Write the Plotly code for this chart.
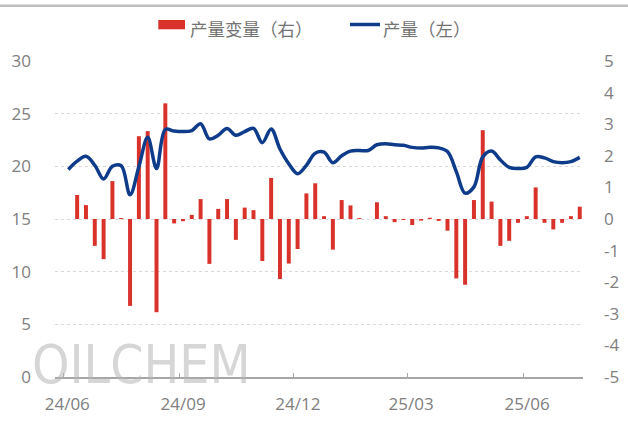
import pandas as pd
import plotly.graph_objects as go

# ---- data ----
start_date = "2024-06-05"
n_weeks = 59
dates = pd.date_range(start_date, periods=n_weeks, freq="7D")

output_left = [
    19.7, 20.5, 20.95, 20.1, 18.8, 20.0, 20.05, 17.3, 19.95, 22.75,
    19.8, 23.5, 23.35, 23.3, 23.4, 24.05, 22.6, 22.95, 23.6, 22.95,
    23.3, 23.6, 22.25, 23.55, 21.65, 20.25, 19.3, 20.1, 21.25, 21.35,
    20.35, 21.0, 21.45, 21.5, 21.5, 22.05, 22.15, 22.05, 22.0, 21.8,
    21.75, 21.8, 21.75, 21.4, 19.5, 17.45, 18.05, 20.9, 21.45, 20.6,
    19.9, 19.8, 19.9, 20.9, 20.8, 20.45, 20.35, 20.45, 20.85,
]

change_right = [
    None, 0.76, 0.44, -0.85, -1.27, 1.2, 0.03, -2.75, 2.62, 2.78,
    -2.95, 3.66, -0.14, -0.07, 0.13, 0.63, -1.42, 0.32, 0.63, -0.66,
    0.36, 0.28, -1.33, 1.3, -1.9, -1.41, -0.95, 0.81, 1.13, 0.09,
    -0.97, 0.6, 0.43, 0.03, 0.0, 0.53, 0.09, -0.1, -0.03, -0.19,
    -0.05, 0.04, -0.06, -0.37, -1.88, -2.08, 0.6, 2.81, 0.55, -0.85,
    -0.69, -0.12, 0.09, 1.0, -0.12, -0.33, -0.12, 0.09, 0.39,
]

x_tickvals = ["2024-06-01", "2024-09-01", "2024-12-01", "2025-03-01", "2025-06-01"]
x_ticktext = ["24/06", "24/09", "24/12", "25/03", "25/06"]
left_ticks = [0, 5, 10, 15, 20, 25, 30]
left_ticktext = ["0", "5", "10", "15", "20", "25", "30"]
right_ticks = [-5, -4, -3, -2, -1, 0, 1, 2, 3, 4, 5]
right_ticktext = ["-5", "-4", "-3", "-2", "-1", "0", "1", "2", "3", "4", "5"]

bar_name = "产量变量（右）"
line_name = "产量（左）"

# ---- styles ----
RED = "#D8322A"
BLUE = "#0F3C8A"
TICK_GRAY = "#808080"
AXIS_GRAY = "#A6A6A6"
NUM_FONT = "Open Sans, DejaVu Sans, sans-serif"
CJK_FONT = "Noto Sans CJK SC, sans-serif"

fig = go.Figure()

fig.add_trace(go.Bar(
    x=dates, y=change_right, name=bar_name,
    marker=dict(color=RED, line=dict(width=0)),
    yaxis="y", showlegend=False, hoverinfo="skip",
))

fig.add_trace(go.Scatter(
    x=dates, y=output_left, name=line_name, mode="lines",
    line=dict(color=BLUE, width=3.5, shape="spline", smoothing=1.0),
    yaxis="y2", showlegend=False, hoverinfo="skip",
))

W, H = 628, 423
ML, MR, MT, MB = 55, 45, 61, 46
PW = W - ML - MR
PH = H - MT - MB


def px(xp):
    return (xp - ML) / PW


def py(yp):
    return (H - MB - yp) / PH


shapes = [
    # top decorative rule
    dict(type="line", xref="paper", yref="paper",
         x0=px(0), x1=px(W), y0=py(5.7), y1=py(5.7),
         line=dict(color="#BFBFBF", width=2.5)),
    # legend: red box
    dict(type="rect", xref="paper", yref="paper",
         x0=px(158.3), x1=px(185), y0=py(29.3), y1=py(20),
         fillcolor=RED, line=dict(width=0)),
    # legend: blue line
    dict(type="line", xref="paper", yref="paper",
         x0=px(350), x1=px(380), y0=py(24.5), y1=py(24.5),
         line=dict(color=BLUE, width=3.5)),
]

annotations = [
    dict(text="OILCHEM", xref="paper", yref="paper",
         x=px(30), y=py(364), xanchor="left", yanchor="middle",
         showarrow=False,
         font=dict(family="Liberation Sans Narrow, DejaVu Sans Condensed, sans-serif",
                   size=53, color="rgba(180,180,180,0.55)")),
    dict(text=bar_name, xref="paper", yref="paper",
         x=px(188), y=py(29), xanchor="left", yanchor="middle",
         showarrow=False,
         font=dict(family=CJK_FONT, size=17.5, color="#737373")),
    dict(text=line_name, xref="paper", yref="paper",
         x=px(381), y=py(29), xanchor="left", yanchor="middle",
         showarrow=False,
         font=dict(family=CJK_FONT, size=17.5, color="#737373")),
]

fig.update_layout(
    width=W, height=H,
    margin=dict(l=ML, r=MR, t=MT, b=MB, pad=0, autoexpand=False),
    paper_bgcolor="white", plot_bgcolor="white",
    bargap=0.55,
    showlegend=False,
    hovermode=False,
    shapes=shapes,
    annotations=annotations,
    xaxis=dict(
        type="date",
        automargin=False,
        range=["2024-05-25 10:00", "2025-07-18 14:00"],
        tickvals=x_tickvals, ticktext=x_ticktext,
        ticks="inside", ticklen=4, tickwidth=1, tickcolor=AXIS_GRAY,
        showline=True, linecolor=AXIS_GRAY, linewidth=1.5,
        showgrid=False, zeroline=False,
        tickfont=dict(family=NUM_FONT, size=17, color=TICK_GRAY),
        ticklabelshift=4,
        ticklabelstandoff=11,
    ),
    yaxis=dict(
        side="right",
        automargin=False,
        range=[-5, 5],
        tickvals=right_ticks, ticktext=right_ticktext,
        showgrid=False, zeroline=False, showline=False, ticks="",
        tickfont=dict(family=NUM_FONT, size=17, color=TICK_GRAY),
        ticklabelstandoff=20,
    ),
    yaxis2=dict(
        side="left", overlaying="y",
        automargin=False,
        range=[0, 30],
        tickvals=left_ticks, ticktext=left_ticktext,
        showgrid=True, gridcolor="#D9D9D9", gridwidth=1, griddash="3px,3px",
        zeroline=False, showline=False, ticks="",
        tickfont=dict(family=NUM_FONT, size=17, color=TICK_GRAY),
        ticklabelstandoff=23,
    ),
)

fig.write_html(
    "out.html",
    config={"displayModeBar": False, "staticPlot": True},
    post_script="document.body.style.margin='0px';",
)
